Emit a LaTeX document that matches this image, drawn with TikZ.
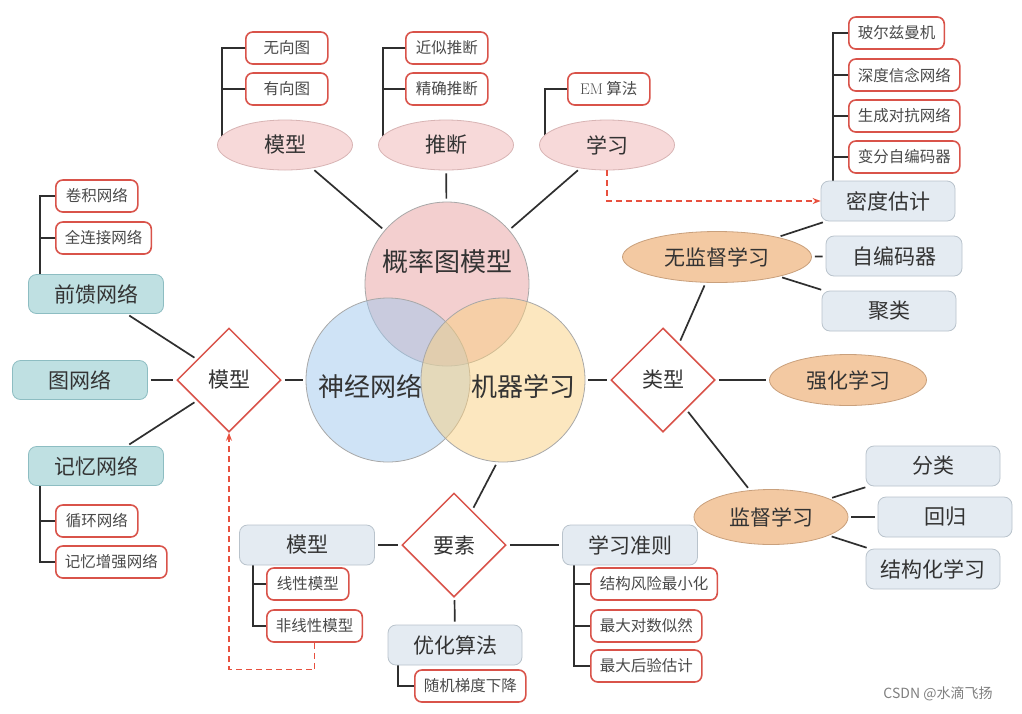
\documentclass[tikz,border=0pt]{standalone}
\usepackage{fontspec}
\newfontfamily\cjk{Noto Sans CJK SC}
\usetikzlibrary{shapes.geometric,arrows.meta}
\pgfdeclarelayer{background}
\pgfsetlayers{background,main}
\definecolor{leafred}{HTML}{D9534A}
\definecolor{leaftext}{HTML}{4A4A4A}
\definecolor{maintext}{HTML}{333333}
\definecolor{grayfill}{HTML}{E4EBF2}
\definecolor{graydraw}{HTML}{B9C3CC}
\definecolor{tealfill}{HTML}{BFE0E2}
\definecolor{tealdraw}{HTML}{8DBDC2}
\definecolor{pinkfill}{HTML}{F7D9D9}
\definecolor{pinkdraw}{HTML}{D8B4B4}
\definecolor{orangefill}{HTML}{F3C9A2}
\definecolor{orangedraw}{HTML}{C9A07C}
\definecolor{connline}{HTML}{2F2F2F}
\definecolor{dashred}{HTML}{E8503E}
\definecolor{vpink}{HTML}{E8A0A0}
\definecolor{vblue}{HTML}{A0C8EE}
\definecolor{vyellow}{HTML}{FAD080}
\definecolor{vdraw}{HTML}{A8A8A8}
\begin{document}
\begin{tikzpicture}[x=1pt,y=-1pt,
  leaf/.style={draw=leafred,line width=1.6pt,rounded corners=7pt,fill=white,text=leaftext,
    font=\cjk\fontsize{15.5}{18}\selectfont,minimum height=32pt,minimum width=82pt,inner xsep=9pt,inner ysep=0pt,anchor=west},
  midfont/.style={font=\cjk\fontsize{21}{24}\selectfont,text=maintext},
  pinkell/.style={ellipse,fill=pinkfill,draw=pinkdraw,line width=0.8pt,minimum width=135pt,minimum height=50pt,inner sep=0pt,midfont},
  orangeell/.style={ellipse,fill=orangefill,draw=orangedraw,line width=0.8pt,minimum height=51pt,inner sep=0pt,midfont},
  graybox/.style={rounded corners=8pt,fill=grayfill,draw=graydraw,line width=0.8pt,minimum width=134pt,minimum height=40pt,inner sep=0pt,midfont},
  tealbox/.style={rounded corners=8pt,fill=tealfill,draw=tealdraw,line width=0.8pt,minimum width=135pt,minimum height=39pt,inner sep=0pt,midfont},
  dia/.style={diamond,draw=leafred,line width=1.5pt,fill=white,minimum width=104pt,minimum height=104pt,inner sep=0pt,aspect=1,midfont},
  venn/.style={circle,minimum size=164pt,inner sep=0pt,draw=vdraw,line width=0.8pt,fill opacity=0.5},
  venntext/.style={font=\cjk\fontsize{26}{30}\selectfont,text=maintext},
  conn/.style={draw=connline,line width=1.7pt,shorten <=3pt,shorten >=3pt},
  trunk/.style={draw=connline,line width=1.5pt},
  redarr/.style={draw=dashred,line width=1.3pt,dash pattern=on 6pt off 4pt,-{Stealth[length=8pt,width=6pt]}}
]
\useasboundingbox (0,0) rectangle (1022,713);

% Venn circles
\node[venn,fill=vpink] (gailv) at (447,284) {};
\node[venn,fill=vblue] (shenjing) at (388,380) {};
\node[venn,fill=vyellow] (jiqi) at (503,380) {};
\node[venntext] (tgailv) at (447,262) {概率图模型};
\node[venntext] (tshenjing) at (370,386) {神经网络};
\node[venntext] (tjiqi) at (523,386) {机器学习};

% top
\node[pinkell] (m1) at (285,145) {模型};
\node[pinkell] (m2) at (446,145) {推断};
\node[pinkell] (m3) at (607,145) {学习};
\node[leaf] (wx) at (245,48) {无向图};
\node[leaf] (yx) at (245,89) {有向图};
\node[leaf] (js) at (405,48) {近似推断};
\node[leaf] (jq) at (405,89) {精确推断};
\node[leaf] (em) at (567,89) {{\rmfamily EM} 算法};

% top right
\node[graybox] (md) at (888,201) {密度估计};
\node[leaf] (be) at (848,33) {玻尔兹曼机};
\node[leaf] (sd) at (848,75) {深度信念网络};
\node[leaf] (sc) at (848,116) {生成对抗网络};
\node[leaf] (bf) at (848,157) {变分自编码器};

% left
\node[dia] (dm) at (229,380) {模型};
\node[tealbox] (qk) at (96,294) {前馈网络};
\node[tealbox] (tw) at (80,380) {图网络};
\node[tealbox] (jy) at (96,466) {记忆网络};
\node[leaf] (jj) at (55,196) {卷积网络};
\node[leaf] (qlj) at (55,238) {全连接网络};
\node[leaf] (xh) at (55,521) {循环网络};
\node[leaf] (jyzq) at (55,562) {记忆增强网络};

% right
\node[dia] (lx) at (663,380) {类型};
\node[orangeell,minimum width=189pt] (wj) at (717,257) {无监督学习};
\node[graybox,minimum width=136pt] (zb) at (894,256) {自编码器};
\node[graybox] (jl) at (889,311) {聚类};
\node[orangeell,minimum width=157pt] (qh) at (848,380) {强化学习};
\node[orangeell,minimum width=154pt,minimum height=55pt] (jd) at (771,517) {监督学习};
\node[graybox] (fl) at (933,466) {分类};
\node[graybox] (hg) at (945,517) {回归};
\node[graybox] (jgh) at (933,569) {结构化学习};

% bottom
\node[dia] (ys) at (454,545) {要素};
\node[graybox,minimum width=135pt] (mx) at (307,545) {模型};
\node[graybox,minimum width=135pt] (xzz) at (630,545) {学习准则};
\node[graybox] (yh) at (455,645) {优化算法};
\node[leaf] (xx) at (266,584) {线性模型};
\node[leaf] (fxx) at (266,626) {非线性模型};
\node[leaf] (jg) at (590,584) {结构风险最小化};
\node[leaf] (zd) at (590,626) {最大对数似然};
\node[leaf] (zh) at (590,666) {最大后验估计};
\node[leaf] (sj) at (414,686) {随机梯度下降};

% watermark
\node[font=\cjk\fontsize{14}{16}\selectfont,text=black!50] (wm) at (938,694) {CSDN @水滴飞扬};

\begin{pgfonlayer}{background}
  \fill[white] (0,0) rectangle (1022,713);
  % trees
  \draw[trunk] (wx.west) -| ([xshift=-63pt]m1.center);
  \draw[trunk] (yx.west) -- ++(-23,0);
  \draw[trunk] (js.west) -| ([xshift=-63pt]m2.center);
  \draw[trunk] (jq.west) -- ++(-22,0);
  \draw[trunk] (em.west) -| ([xshift=-62pt]m3.center);
  \draw[trunk] (be.west) -| ([xshift=-55pt]md.center);
  \draw[trunk] (sd.west) -- ++(-15,0);
  \draw[trunk] (sc.west) -- ++(-15,0);
  \draw[trunk] (bf.west) -- ++(-15,0);
  \draw[trunk] (jj.west) -| ([xshift=-56pt]qk.center);
  \draw[trunk] (qlj.west) -- ++(-15,0);
  \draw[trunk] (jyzq.west) -| ([xshift=-56pt]jy.center);
  \draw[trunk] (xh.west) -- ++(-15,0);
  \draw[trunk] (fxx.west) -| ([xshift=-54pt]mx.center);
  \draw[trunk] (xx.west) -- ++(-13,0);
  \draw[trunk] (zh.west) -| ([xshift=-56pt]xzz.center);
  \draw[trunk] (jg.west) -- ++(-16,0);
  \draw[trunk] (zd.west) -- ++(-16,0);
  \draw[trunk] (sj.west) -| ([xshift=-57pt]yh.center);
  % connectors
  \draw[conn] (m1) -- (gailv);
  \draw[conn] (m2) -- (gailv);
  \draw[conn] (m3) -- (gailv);
  \draw[conn] (qk) -- (dm);
  \draw[conn] (tw) -- (dm);
  \draw[conn] (jy) -- (dm);
  \draw[conn] (dm) -- (shenjing);
  \draw[conn] (jiqi) -- (lx);
  \draw[conn] (lx) -- (wj);
  \draw[conn] (lx) -- (qh);
  \draw[conn] (lx) -- (jd);
  \draw[conn] (wj) -- (md);
  \draw[conn] (wj) -- (zb);
  \draw[conn] (wj) -- (jl);
  \draw[conn] (jd) -- (fl);
  \draw[conn] (jd) -- (hg);
  \draw[conn] (jd) -- (jgh);
  \draw[conn] (jiqi.266) -- (ys);
  \draw[conn] (mx) -- (ys);
  \draw[conn] (ys) -- (xzz);
  \draw[conn] (ys) -- (yh);
\end{pgfonlayer}
% dashed red arrows
\draw[redarr] (m3.south) |- (md.west);
\draw[redarr] (fxx.south) -- ++(0,27) -| (dm.south);
\end{tikzpicture}
\end{document}
